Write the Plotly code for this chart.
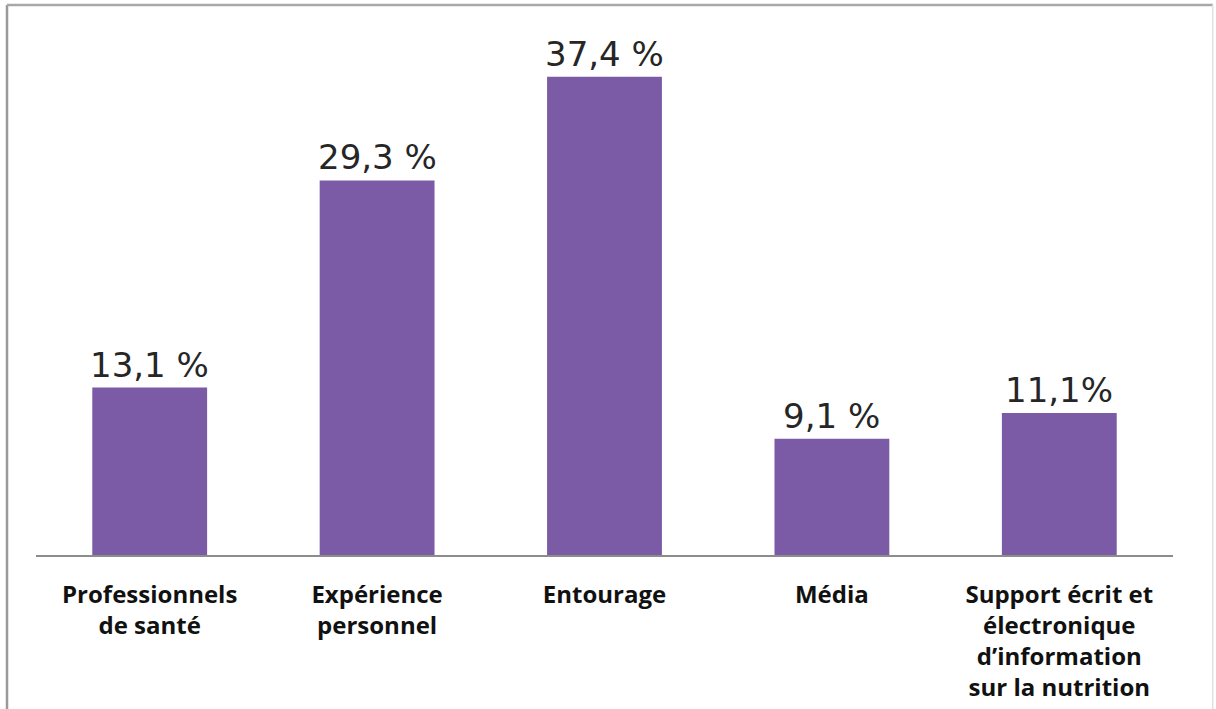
import plotly.graph_objects as go

categories = [
    "Professionnels<br>de santé",
    "Expérience<br>personnel",
    "Entourage",
    "Média",
    "Support écrit et<br>électronique<br>d’information<br>sur la nutrition",
]
values = [13.1, 29.3, 37.4, 9.1, 11.1]
value_labels = ["13,1 %", "29,3 %", "37,4 %", "9,1 %", "11,1%"]

bar_color = "#7b5ba6"

fig = go.Figure()
fig.add_trace(go.Bar(
    x=categories,
    y=values,
    marker=dict(color=bar_color, line=dict(width=0)),
    showlegend=False,
    hoverinfo="skip",
))

for c, v, t in zip(categories, values, value_labels):
    fig.add_annotation(
        x=c, y=v, text=t, showarrow=False,
        xref="x", yref="y", yanchor="bottom", yshift=1,
        font=dict(family="DejaVu Sans", size=34, color="#262626"),
    )

fig.update_layout(
    width=1216, height=709,
    margin=dict(l=36, r=43, t=18, b=154),
    paper_bgcolor="white",
    plot_bgcolor="white",
    bargap=0.495,
    xaxis=dict(
        automargin=False,
        showgrid=False, zeroline=False,
        showline=True, linecolor="#8c8c8c", linewidth=1.5,
        ticks="outside", ticklen=17, tickcolor="rgba(0,0,0,0)",
        tickfont=dict(family="Open Sans", size=24, color="#111111", weight="bold"),
    ),
    yaxis=dict(
        automargin=False,
        range=[0, 42], showgrid=False, zeroline=False,
        showticklabels=False, showline=False,
    ),
    shapes=[
        dict(type="line", xref="paper", yref="paper",
             x0=-0.0255, x1=-0.0255, y0=1.024, y1=-0.32,
             line=dict(color="#9a9a9a", width=2.5)),
        dict(type="line", xref="paper", yref="paper",
             x0=-0.0255, x1=1.035, y0=1.024, y1=1.024,
             line=dict(color="#a8a8a8", width=2.5)),
        dict(type="line", xref="paper", yref="paper",
             x0=1.035, x1=1.035, y0=1.024, y1=-0.32,
             line=dict(color="#e0e0e0", width=1.5)),
    ],
)

fig.write_html("out.html")
